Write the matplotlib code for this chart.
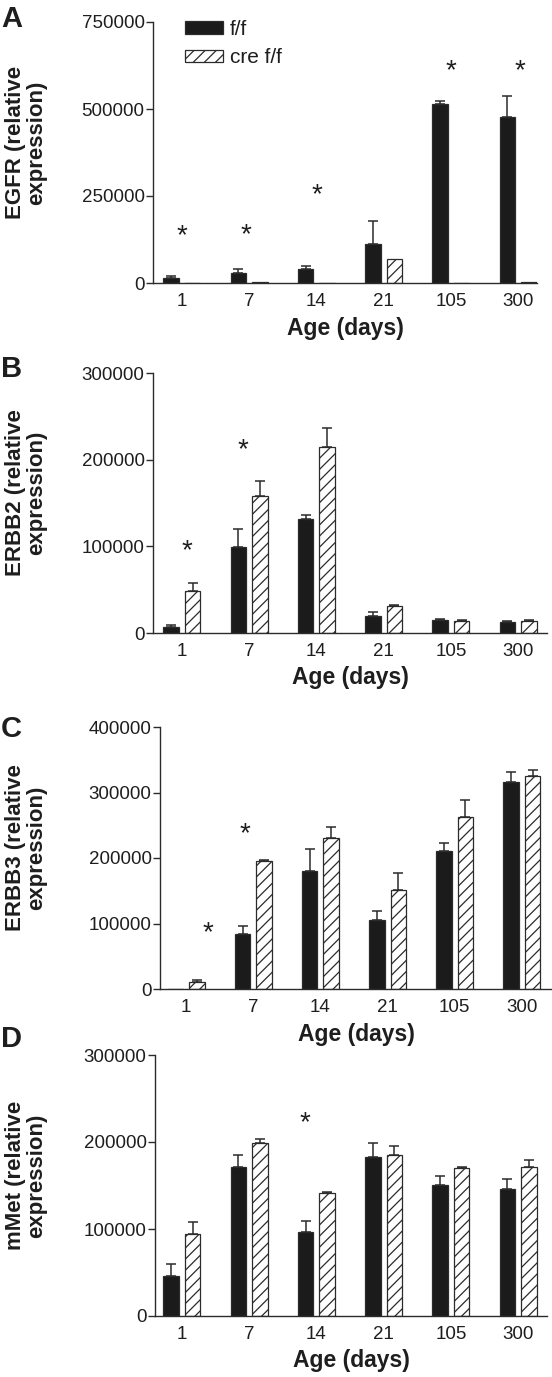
import matplotlib.pyplot as plt
from matplotlib.patches import Patch
from matplotlib.transforms import offset_copy

plt.rcParams['font.family'] = ['Liberation Sans', 'DejaVu Sans']
plt.rcParams['hatch.linewidth'] = 0.9

# data
ages = ['1', '7', '14', '21', '105', '300']

egfr_ff = [15000, 28000, 41000, 113000, 514000, 477000]
egfr_ff_err = [5000, 13000, 7000, 65000, 10000, 59000]
egfr_cre = [800, 1500, 500, 70000, 500, 1500]
egfr_cre_err = [0, 0, 0, 0, 0, 0]
egfr_yticks = [0, 250000, 500000, 750000]
egfr_star_x = [0, 0.95, 2, 4, 5.03]
egfr_star_y = [146000, 149000, 263000, 621000, 621000]

erbb2_ff = [6900, 99000, 131500, 19500, 15300, 13000]
erbb2_ff_err = [2700, 20500, 5000, 4300, 800, 500]
erbb2_cre = [48000, 158000, 214500, 31000, 14200, 14200]
erbb2_cre_err = [9200, 17000, 22500, 1200, 400, 400]
erbb2_yticks = [0, 100000, 200000, 300000]
erbb2_star_x = [0.08, 0.9]
erbb2_star_y = [99000, 215600]

erbb3_ff = [0, 84000, 180700, 105300, 210700, 315500]
erbb3_ff_err = [0, 12200, 33500, 13800, 12200, 15300]
erbb3_cre = [11200, 194900, 230000, 151600, 262600, 325700]
erbb3_cre_err = [2000, 2100, 17300, 25000, 25900, 9200]
erbb3_yticks = [0, 100000, 200000, 300000, 400000]
erbb3_star_x = [0.32, 0.87]
erbb3_star_y = [91600, 243000]

mmet_ff = [46400, 171300, 96900, 182800, 151000, 146400]
mmet_ff_err = [13800, 13400, 11900, 16100, 10000, 10700]
mmet_cre = [93900, 198900, 141400, 185400, 170500, 171600]
mmet_cre_err = [14100, 4200, 700, 9600, 400, 7300]
mmet_yticks = [0, 100000, 200000, 300000]
mmet_star_x = [1.83]
mmet_star_y = [226000]

W, H = 552, 1377
fig = plt.figure(figsize=(W / 100, H / 100), dpi=100)

dark = '#2b2b2b'
txt = '#1e1e1e'

panels = [
    ('A', 'EGFR (relative\nexpression)', egfr_ff, egfr_ff_err, egfr_cre, egfr_cre_err,
     egfr_yticks, egfr_star_x, egfr_star_y, (153, 537, 22, 283), (-0.43, 5.28), 27),
    ('B', 'ERBB2 (relative\nexpression)', erbb2_ff, erbb2_ff_err, erbb2_cre, erbb2_cre_err,
     erbb2_yticks, erbb2_star_x, erbb2_star_y, (153, 547, 373, 633), (-0.43, 5.43), 377),
    ('C', 'ERBB3 (relative\nexpression)', erbb3_ff, erbb3_ff_err, erbb3_cre, erbb3_cre_err,
     erbb3_yticks, erbb3_star_x, erbb3_star_y, (160, 552, 727, 989), (-0.39, 5.45), 737),
    ('D', 'mMet (relative\nexpression)', mmet_ff, mmet_ff_err, mmet_cre, mmet_cre_err,
     mmet_yticks, mmet_star_x, mmet_star_y, (155, 547, 1055, 1316), (-0.40, 5.43), 1047),
]

w = 0.23
off = 0.16
x = list(range(len(ages)))

for letter, ylab, ff, ff_err, cre, cre_err, yticks, sx, sy, box, xl, lety in panels:
    l, r, t, b = box
    ax = fig.add_axes([l / W, 1 - b / H, (r - l) / W, (b - t) / H])

    xf = [i - off for i in x]
    xc = [i + off for i in x]
    ax.bar(xf, ff, width=w, color='#1b1b1b', edgecolor=dark, linewidth=0.9, zorder=2)
    ax.bar(xc, cre, width=w, color='white', edgecolor=dark, linewidth=0.9,
           hatch='///', zorder=2)

    # upper error bars only
    for xs, vals, errs in ((xf, ff, ff_err), (xc, cre, cre_err)):
        for xi, v, e in zip(xs, vals, errs):
            if e > 0:
                ax.errorbar(xi, v, yerr=[[0], [e]], fmt='none', ecolor=dark,
                            elinewidth=1.1, capsize=3.5, capthick=1.1, zorder=3)

    # asterisk glyph sits high in its box, nudge it down a little
    star_tr = offset_copy(ax.transData, fig=fig, y=-4, units='dots')
    for xi, yi in zip(sx, sy):
        ax.text(xi, yi, '*', ha='center', va='center', fontsize=20, color=txt,
                transform=star_tr)

    ax.set_xlim(*xl)
    ax.set_ylim(0, yticks[-1])
    ax.set_yticks(yticks)
    ax.set_yticklabels([str(v) for v in yticks])
    ax.set_xticks(x)
    ax.set_xticklabels(ages)
    for s in ('top', 'right'):
        ax.spines[s].set_visible(False)
    for s in ('left', 'bottom'):
        ax.spines[s].set_color(dark)
        ax.spines[s].set_linewidth(1.0)
    ax.tick_params(axis='y', length=5, width=1.0, color=dark, pad=1,
                   labelsize=13.5, labelcolor=txt)
    ax.tick_params(axis='x', length=0, pad=7, labelsize=13.5, labelcolor=txt)

    cx = (l + r) / 2
    fig.text(cx / W, 1 - (b + 45) / H, 'Age (days)', ha='center', va='center',
             fontsize=16.5, fontweight='bold', color=txt)
    fig.text(26 / W, 1 - ((t + b) / 2 - 10) / H, ylab, rotation=90, ha='center',
             va='center', fontsize=16, fontweight='bold', color=txt,
             multialignment='center', linespacing=1.0)
    fig.text(1 / W, 1 - lety / H, letter, ha='left', va='baseline', fontsize=21,
             fontweight='bold', color=txt)

    if letter == 'A':
        handles = [Patch(facecolor='#1b1b1b', edgecolor=dark, linewidth=0.9),
                   Patch(facecolor='white', edgecolor=dark, linewidth=0.9, hatch='///')]
        ax.legend(handles, ['f/f', 'cre f/f'], loc='upper left',
                  bbox_to_anchor=(185 / W, 1 - 20 / H), bbox_transform=fig.transFigure,
                  frameon=False, borderpad=0, borderaxespad=0, fontsize=15,
                  handlelength=1.8, handleheight=0.55, handletextpad=0.35,
                  labelspacing=0.45, labelcolor=txt)

fig.savefig('out.png', dpi=100)
